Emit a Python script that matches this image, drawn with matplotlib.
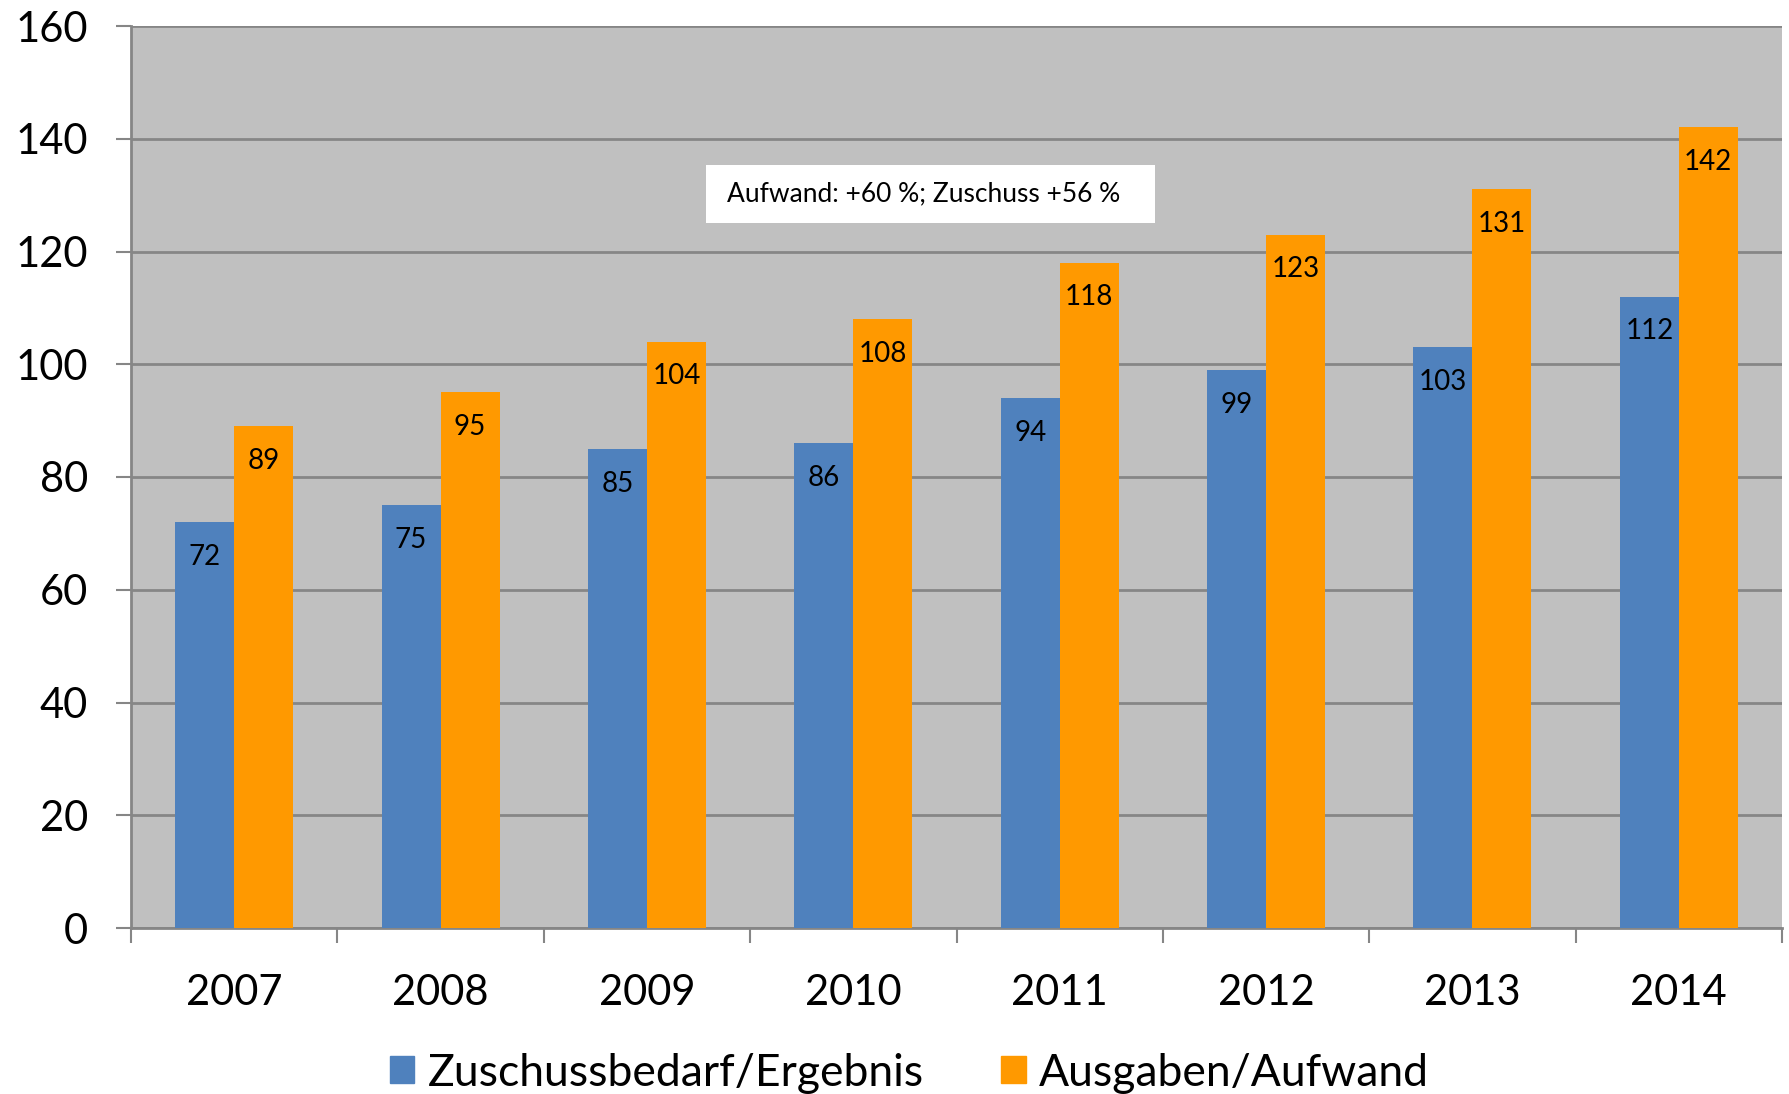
import matplotlib
matplotlib.use("Agg")
from matplotlib import pyplot as plt
from matplotlib.patches import Patch
import numpy as np

years = ["2007", "2008", "2009", "2010", "2011", "2012", "2013", "2014"]
zuschuss = [72, 75, 85, 86, 94, 99, 103, 112]
ausgaben = [89, 95, 104, 108, 118, 123, 131, 142]
series_names = ["Zuschussbedarf/Ergebnis", "Ausgaben/Aufwand"]
note = "Aufwand: +60 %; Zuschuss +56 %"

blue = "#4F81BD"
orange = "#FF9900"
grid_col = "#868686"

plt.rcParams["font.family"] = ["Lato", "DejaVu Sans"]

fig = plt.figure(figsize=(17.89, 10.94), dpi=100)
ax = fig.add_axes([131 / 1789, 1 - 928 / 1094, (1782 - 131) / 1789, (928 - 26) / 1094])
ax.set_facecolor("#C0C0C0")

x = np.arange(len(years))
w = 1 / 3.5
b1 = ax.bar(x - w / 2, zuschuss, w, color=blue, zorder=3)
b2 = ax.bar(x + w / 2, ausgaben, w, color=orange, zorder=3)

for bars, vals in [(b1, zuschuss), (b2, ausgaben)]:
    for r, v in zip(bars, vals):
        ax.annotate(str(v), (r.get_x() + r.get_width() / 2, v),
                    xytext=(0, -25), textcoords="offset points",
                    ha="center", va="center", fontsize=20, zorder=4)

ax.set_ylim(0, 160)
ax.set_yticks(range(0, 161, 20))
ax.set_xlim(-0.5, len(years) - 0.5)
ax.set_xticks(x)
ax.set_xticklabels(years)
ax.set_xticks(np.arange(-0.5, len(years), 1), minor=True)
ax.tick_params(axis="x", which="major", length=0, pad=33, labelsize=30)
ax.tick_params(axis="x", which="minor", length=11, width=1.5, color=grid_col)
ax.tick_params(axis="y", length=11, width=1.5, color=grid_col, pad=20, labelsize=30)

ax.grid(axis="y", color=grid_col, linewidth=2, zorder=1)
ax.set_axisbelow(True)
for s in ["top", "right"]:
    ax.spines[s].set_visible(False)
for s in ["left", "bottom"]:
    ax.spines[s].set_color(grid_col)
    ax.spines[s].set_linewidth(2)

# white note box over the plot
fig.patches.append(plt.Rectangle((706 / 1789, 1 - 223 / 1094), 449 / 1789, 58 / 1094,
                                 transform=fig.transFigure, facecolor="white",
                                 edgecolor="none", zorder=4))
fig.text(727 / 1789, 1 - 194 / 1094, note, fontsize=19, va="center", ha="left", zorder=5)

handles = [Patch(color=blue), Patch(color=orange)]
fig.legend(handles, series_names, loc="center", bbox_to_anchor=(0.5 + 15 / 1789, 1 - 1073 / 1094),
           ncol=2, frameon=False, fontsize=32, handlelength=0.55, handleheight=0.55,
           handletextpad=0.3, columnspacing=1.75, borderaxespad=0)

fig.savefig("out.png", dpi=100, facecolor="white")
